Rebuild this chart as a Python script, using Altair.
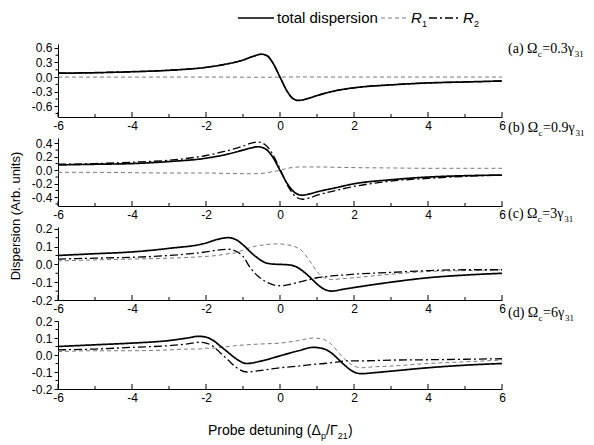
import altair as alt
import pandas as pd

SANS = "Liberation Sans"
SERIF = "Liberation Serif"

X_MAJOR = [-6, -4, -2, 0, 2, 4, 6]
X_MINOR = [-5, -3, -1, 1, 3, 5]

# ---- panel (a) Omega_c = 0.3 gamma31
XA = [-6, -5, -4, -3, -2, -1.5, -1, -0.75, -0.5, -0.35, -0.2, 0, 0.2, 0.35, 0.5, 0.75, 1, 1.5, 2, 3, 4, 5, 6]
A_TOTAL = [0.08, 0.09, 0.11, 0.14, 0.2, 0.26, 0.35, 0.42, 0.47, 0.44, 0.3, 0.0, -0.3, -0.44, -0.48, -0.44, -0.38, -0.28, -0.22, -0.16, -0.12, -0.1, -0.08]
A_R1 = [0.0, 0.0, 0.0, 0.0, 0.0, 0.0, -0.002, -0.003, -0.004, -0.003, -0.002, 0.0, 0.002, 0.003, 0.004, 0.003, 0.002, 0.0, 0.0, 0.0, 0.0, 0.0, 0.0]
A_R2 = [0.08, 0.09, 0.11, 0.14, 0.2, 0.26, 0.35, 0.42, 0.47, 0.44, 0.3, 0.0, -0.3, -0.44, -0.48, -0.44, -0.38, -0.28, -0.22, -0.16, -0.12, -0.1, -0.08]

# ---- panel (b) Omega_c = 0.9 gamma31
XB = [-6, -5, -4, -3, -2, -1.5, -1, -0.8, -0.6, -0.4, -0.2, 0, 0.2, 0.4, 0.6, 0.8, 1, 1.5, 2, 3, 4, 5, 6]
B_TOTAL = [0.08, 0.09, 0.1, 0.13, 0.18, 0.23, 0.3, 0.33, 0.35, 0.32, 0.2, 0.0, -0.2, -0.33, -0.37, -0.35, -0.32, -0.26, -0.2, -0.14, -0.1, -0.08, -0.07]
B_R1 = [-0.03, -0.03, -0.035, -0.04, -0.04, -0.045, -0.05, -0.05, -0.05, -0.04, -0.02, 0.0, 0.03, 0.045, 0.05, 0.05, 0.05, 0.045, 0.04, 0.035, 0.03, 0.03, 0.03]
B_R2 = [0.09, 0.1, 0.12, 0.15, 0.22, 0.28, 0.36, 0.4, 0.42, 0.38, 0.24, 0.02, -0.22, -0.38, -0.43, -0.41, -0.37, -0.3, -0.24, -0.16, -0.12, -0.09, -0.07]

# ---- panel (c) Omega_c = 3 gamma31
XC = [-6, -5, -4, -3, -2, -1.7, -1.4, -1.2, -1, -0.8, -0.6, -0.4, -0.2, 0, 0.2, 0.4, 0.6, 0.8, 1, 1.2, 1.4, 1.7, 2, 3, 4, 5, 6]
C_TOTAL = [0.05, 0.06, 0.07, 0.09, 0.12, 0.14, 0.15, 0.14, 0.11, 0.07, 0.035, 0.01, 0.002, 0.0, -0.002, -0.01, -0.035, -0.07, -0.11, -0.14, -0.15, -0.14, -0.13, -0.1, -0.075, -0.06, -0.05]
C_R1 = [0.02, 0.025, 0.03, 0.035, 0.045, 0.05, 0.06, 0.065, 0.08, 0.095, 0.105, 0.11, 0.115, 0.115, 0.11, 0.1, 0.075, 0.02, -0.04, -0.075, -0.085, -0.08, -0.075, -0.055, -0.04, -0.035, -0.03]
C_R2 = [0.03, 0.035, 0.04, 0.05, 0.07, 0.08, 0.085, 0.075, 0.045, -0.02, -0.065, -0.095, -0.113, -0.12, -0.115, -0.105, -0.095, -0.085, -0.075, -0.07, -0.065, -0.06, -0.055, -0.045, -0.035, -0.03, -0.03]

# ---- panel (d) Omega_c = 6 gamma31
XD = [-6, -5, -4, -3, -2.5, -2.2, -2, -1.8, -1.6, -1.4, -1.2, -0.9, -0.5, 0, 0.5, 0.9, 1.2, 1.4, 1.6, 1.8, 2, 2.2, 2.5, 3, 4, 5, 6]
D_TOTAL = [0.05, 0.06, 0.07, 0.085, 0.1, 0.11, 0.105, 0.085, 0.05, 0.015, -0.02, -0.05, -0.035, -0.005, 0.025, 0.045, 0.035, 0.01, -0.03, -0.07, -0.1, -0.11, -0.105, -0.095, -0.075, -0.06, -0.05]
D_R1 = [0.02, 0.025, 0.025, 0.03, 0.035, 0.035, 0.04, 0.04, 0.045, 0.05, 0.055, 0.06, 0.065, 0.07, 0.085, 0.1, 0.09, 0.06, 0.01, -0.035, -0.065, -0.075, -0.07, -0.065, -0.05, -0.04, -0.03]
D_R2 = [0.03, 0.035, 0.045, 0.055, 0.065, 0.075, 0.07, 0.05, 0.01, -0.03, -0.07, -0.1, -0.09, -0.075, -0.065, -0.055, -0.05, -0.045, -0.04, -0.035, -0.035, -0.035, -0.033, -0.03, -0.028, -0.025, -0.022]

W = 444
MINUS = "\u2212"


def long_df(xs, tot, r1, r2):
    rows = []
    for name, ys in (("R1", r1), ("R2", r2), ("total", tot)):
        rows += [{"x": x, "y": y, "s": name} for x, y in zip(xs, ys)]
    return pd.DataFrame(rows)


def txt(s, x, y, size, font=SANS, style="normal", align="left", baseline="alphabetic", angle=0):
    return alt.Chart(alt.Data(values=[{}])).mark_text(
        text=s, align=align, baseline=baseline, font=font, fontSize=size,
        fontStyle=style, color="black", angle=angle
    ).encode(x=alt.value(x), y=alt.value(y))


def rule(x1, x2, y, dash, color="black", width=1.0):
    return alt.Chart(alt.Data(values=[{}])).mark_rule(
        strokeDash=dash, color=color, strokeWidth=width
    ).encode(x=alt.value(x1), x2=alt.value(x2), y=alt.value(y))


def rich(segs, x0, y0):
    """segs: (text, size, dy, width, font, style)"""
    out = []
    x = x0
    for s, size, dy, w, font, style in segs:
        out.append(txt(s, x, y0 + dy, size, font=font, style=style))
        x += w
    return out


def omega_label(letter, value, lw, vw, x0, y0):
    return rich([
        ("(" + letter + ") \u03a9", 14, 0, lw, SERIF, "normal"),
        ("c", 9, 4, 4.5, SERIF, "normal"),
        ("=" + value + "\u03b3", 14, 0, vw, SERIF, "normal"),
        ("31", 9, 4, 9, SERIF, "normal"),
    ], x0, y0)


def panel(xs, tot, r1, r2, h, ydom, ymajor, yminor, extras):
    df = long_df(xs, tot, r1, r2)
    xscale = alt.Scale(domain=[-6, 6], nice=False, zero=False)
    yscale = alt.Scale(domain=ydom, nice=False, zero=False)
    xaxis = alt.Axis(values=X_MAJOR, ticks=False, grid=False, title=None,
                     labelExpr="replace(format(datum.value, 'd'), '" + MINUS + "', '-')",
                     labelFont=SANS, labelFontSize=12, labelColor="black", labelPadding=3,
                     labelFlush=False, domainColor="black", domainWidth=1)
    yaxis = alt.Axis(values=ymajor, tickSize=4, tickColor="black", tickWidth=1, grid=False, title=None,
                     labelExpr="replace(format(datum.value, '.1f'), '" + MINUS + "', '-')",
                     labelFont=SANS, labelFontSize=12, labelColor="black", labelPadding=2,
                     domainColor="black", domainWidth=1)
    styles = [
        ("R1", [4, 3], "#7a7a7a", 1.0),
        ("R2", [8, 3, 2, 3], "black", 1.3),
        ("total", [1, 0], "black", 1.7),
    ]
    layers = []
    for name, dash, color, width in styles:
        layers.append(
            alt.Chart(df).transform_filter(alt.datum.s == name).mark_line(
                interpolate="monotone", strokeDash=dash, color=color, strokeWidth=width
            ).encode(x=alt.X("x:Q", scale=xscale, axis=xaxis), y=alt.Y("y:Q", scale=yscale, axis=yaxis))
        )
    layers.append(
        alt.Chart(pd.DataFrame({"t": X_MAJOR})).mark_rule(color="black", strokeWidth=1).encode(
            x=alt.X("t:Q", scale=xscale, axis=xaxis), y=alt.value(h), y2=alt.value(h - 5))
    )
    layers.append(
        alt.Chart(pd.DataFrame({"t": X_MINOR})).mark_rule(color="black", strokeWidth=1).encode(
            x=alt.X("t:Q", scale=xscale, axis=xaxis), y=alt.value(h), y2=alt.value(h - 3))
    )
    layers.append(
        alt.Chart(pd.DataFrame({"m": yminor})).mark_rule(color="black", strokeWidth=1).encode(
            y=alt.Y("m:Q", scale=yscale, axis=yaxis), x=alt.value(0), x2=alt.value(-2.5))
    )
    return alt.layer(*layers, *extras).properties(width=W, height=h)


HA, HB, HC, HD = 73, 68, 73, 68

legend = [
    rule(180, 216, -26, [1, 0], width=1.7),
    txt("total dispersion", 219, -21, 15),
    rule(323, 349, -26, [4, 3], color="#7a7a7a"),
    txt("R", 353, -21, 15, style="italic"),
    txt("1", 364, -17, 9),
    rule(371, 401, -26, [8, 3, 2, 3], width=1.3),
    txt("R", 405, -21, 15, style="italic"),
    txt("2", 416, -17, 9),
]

pa = panel(XA, A_TOTAL, A_R1, A_R2, HA, [-0.82, 0.68], [-0.6, -0.3, 0.0, 0.3, 0.6],
           [-0.75, -0.45, -0.15, 0.15, 0.45],
           legend
           + omega_label("a", "0.3", 29.8, 32.4, W + 6, 9)
           + omega_label("b", "0.9", 30.6, 32.4, W + 6, HA + 15))
pb = panel(XB, B_TOTAL, B_R1, B_R2, HB, [-0.53, 0.48], [-0.4, -0.2, 0.0, 0.2, 0.4],
           [-0.5, -0.3, -0.1, 0.1, 0.3],
           [txt("Dispersion (Arb. units)", -42, 78, 13, angle=270, align="center", baseline="middle")]
           + omega_label("c", "3", 29.8, 21.9, W + 6, HB + 12))
pc = panel(XC, C_TOTAL, C_R1, C_R2, HC, [-0.2, 0.21], [-0.2, -0.1, 0.0, 0.1, 0.2],
           [-0.15, -0.05, 0.05, 0.15],
           omega_label("d", "6", 30.6, 21.9, W + 6, HC + 17))
pd_ = panel(XD, D_TOTAL, D_R1, D_R2, HD, [-0.2, 0.2], [-0.2, -0.1, 0.0, 0.1, 0.2],
            [-0.15, -0.05, 0.05, 0.15],
            rich([
                ("Probe detuning (\u0394", 14, 0, 112.9, SANS, "normal"),
                ("p", 9, 4, 5.2, SANS, "normal"),
                ("/\u0393", 14, 0, 11.7, SANS, "normal"),
                ("21", 9, 4, 10.2, SANS, "normal"),
                (")", 14, 0, 5, SANS, "normal"),
            ], 150, HD + 46))

chart = alt.vconcat(pa, pb, pc, pd_, spacing=21, bounds="flush").properties(
    padding={"left": 2, "top": 3, "right": 0, "bottom": 0}
).configure_view(stroke=None)

chart.save("out.html", embed_options={"renderer": "svg", "actions": False})
